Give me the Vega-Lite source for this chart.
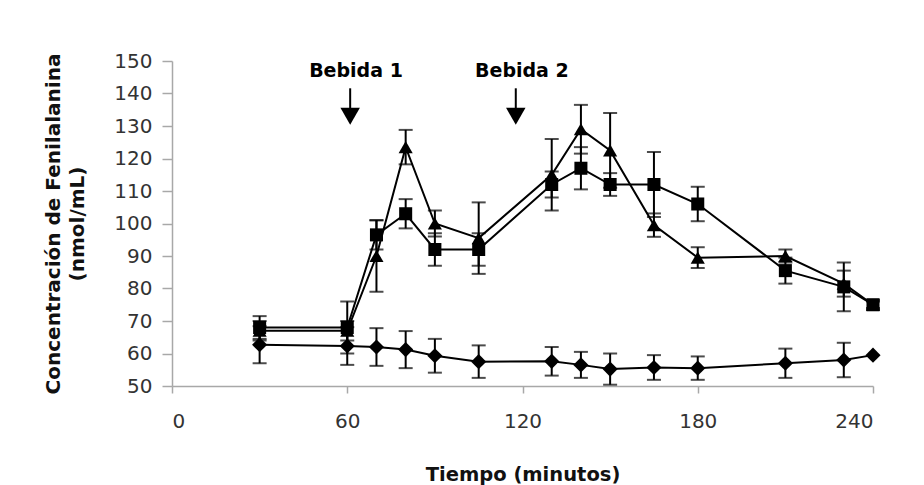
{
  "$schema": "https://vega.github.io/schema/vega-lite/v6.json",
  "autosize": "none",
  "width": 701,
  "height": 325,
  "padding": {"left": 172, "top": 61, "right": 51, "bottom": 99},
  "background": "white",
  "config": {
    "view": {"stroke": null},
    "font": "DejaVu Sans"
  },
  "datasets": {
    "series": [
      {"grupo": "S", "t": 30, "v": 68, "err": 3.5},
      {"grupo": "S", "t": 60, "v": 68, "err": 8},
      {"grupo": "S", "t": 70, "v": 96.5, "err": 4.5},
      {"grupo": "S", "t": 80, "v": 103, "err": 4.5},
      {"grupo": "S", "t": 90, "v": 92, "err": 5},
      {"grupo": "S", "t": 105, "v": 92, "err": 5},
      {"grupo": "S", "t": 130, "v": 112, "err": 4},
      {"grupo": "S", "t": 140, "v": 117, "err": 6.5},
      {"grupo": "S", "t": 150, "v": 112, "err": 3.5},
      {"grupo": "S", "t": 165, "v": 112, "err": 10},
      {"grupo": "S", "t": 180, "v": 106, "err": 5.3},
      {"grupo": "S", "t": 210, "v": 85.5, "err": 4},
      {"grupo": "S", "t": 230, "v": 80.5, "err": 7.5},
      {"grupo": "S", "t": 240, "v": 75, "err": 1.5},
      {"grupo": "T", "t": 30, "v": 67, "err": 3},
      {"grupo": "T", "t": 60, "v": 67, "err": 3},
      {"grupo": "T", "t": 70, "v": 90, "err": 11},
      {"grupo": "T", "t": 80, "v": 123.5, "err": 5.3},
      {"grupo": "T", "t": 90, "v": 100, "err": 4},
      {"grupo": "T", "t": 105, "v": 95.5, "err": 11},
      {"grupo": "T", "t": 130, "v": 115, "err": 11},
      {"grupo": "T", "t": 140, "v": 129, "err": 7.5},
      {"grupo": "T", "t": 150, "v": 122.5, "err": 11.5},
      {"grupo": "T", "t": 165, "v": 99.5, "err": 3.6},
      {"grupo": "T", "t": 180, "v": 89.5, "err": 3.2},
      {"grupo": "T", "t": 210, "v": 90, "err": 2},
      {"grupo": "T", "t": 230, "v": 81.5, "err": 4},
      {"grupo": "T", "t": 240, "v": 75, "err": 1},
      {"grupo": "D", "t": 30, "v": 62.7, "err": 5.7},
      {"grupo": "D", "t": 60, "v": 62.3, "err": 5.8},
      {"grupo": "D", "t": 70, "v": 62, "err": 5.8},
      {"grupo": "D", "t": 80, "v": 61.2, "err": 5.7},
      {"grupo": "D", "t": 90, "v": 59.3, "err": 5.2},
      {"grupo": "D", "t": 105, "v": 57.5, "err": 5},
      {"grupo": "D", "t": 130, "v": 57.6, "err": 4.4},
      {"grupo": "D", "t": 140, "v": 56.5, "err": 4},
      {"grupo": "D", "t": 150, "v": 55.2, "err": 4.8},
      {"grupo": "D", "t": 165, "v": 55.7, "err": 3.8},
      {"grupo": "D", "t": 180, "v": 55.5, "err": 3.6},
      {"grupo": "D", "t": 210, "v": 57, "err": 4.5},
      {"grupo": "D", "t": 230, "v": 58, "err": 5.3},
      {"grupo": "D", "t": 240, "v": 59.5, "err": 0}
    ],
    "labels": [
      {"label": "Bebida 1", "t": 63, "v": 147},
      {"label": "Bebida 2", "t": 119.8, "v": 147}
    ],
    "arrows": [
      {"t": 61, "top": 141.6, "base": 134.5, "head": 133},
      {"t": 117.7, "top": 141.6, "base": 134.5, "head": 133}
    ]
  },
  "encoding": {
    "x": {
      "field": "t",
      "type": "quantitative",
      "scale": {"domain": [0, 240], "nice": false},
      "axis": {
        "values": [0, 60, 120, 180, 240],
        "title": "Tiempo (minutos)",
        "grid": false,
        "domainColor": "#a8a8a8",
        "domainWidth": 1.5,
        "tickColor": "#a8a8a8",
        "tickWidth": 1.5,
        "tickSize": 7,
        "labelPadding": 18,
        "labelFont": "DejaVu Sans",
        "labelFontSize": 20,
        "labelColor": "#333333",
        "titleFont": "DejaVu Sans",
        "titleFontSize": 19.5,
        "titleFontWeight": "bold",
        "titleColor": "#111111",
        "titleBaseline": "alphabetic",
        "titleY": 94
      }
    },
    "y": {
      "field": "v",
      "type": "quantitative",
      "scale": {"domain": [50, 150], "nice": false},
      "axis": {
        "values": [50, 60, 70, 80, 90, 100, 110, 120, 130, 140, 150],
        "title": ["Concentración de Fenilalanina", "(nmol/mL)"],
        "grid": false,
        "domainColor": "#a8a8a8",
        "domainWidth": 1.5,
        "tickColor": "#a8a8a8",
        "tickWidth": 1.5,
        "tickSize": 10,
        "labelPadding": 10,
        "labelFont": "DejaVu Sans",
        "labelFontSize": 20,
        "labelColor": "#333333",
        "titleFont": "DejaVu Sans",
        "titleFontSize": 20,
        "titleFontWeight": "bold",
        "titleColor": "#111111",
        "titleBaseline": "alphabetic",
        "titleLineHeight": 24,
        "titleX": -113
      }
    }
  },
  "layer": [
    {
      "data": {"name": "series"},
      "mark": {"type": "line", "color": "black", "strokeWidth": 2},
      "encoding": {"detail": {"field": "grupo", "type": "nominal"}}
    },
    {
      "data": {"name": "series"},
      "transform": [{"filter": "datum.err > 0"}],
      "mark": {
        "type": "errorbar",
        "color": "black",
        "ticks": {"size": 14, "thickness": 2, "color": "black"},
        "rule": {"strokeWidth": 2, "color": "black"}
      },
      "encoding": {
        "y": {"field": "v", "type": "quantitative"},
        "yError": {"field": "err"},
        "detail": {"field": "grupo", "type": "nominal"}
      }
    },
    {
      "data": {"name": "series"},
      "mark": {"type": "point", "filled": true, "color": "black", "opacity": 1},
      "encoding": {
        "shape": {
          "field": "grupo",
          "type": "nominal",
          "scale": {"domain": ["S", "T", "D"], "range": ["square", "triangle-up", "diamond"]},
          "legend": null
        },
        "size": {
          "field": "grupo",
          "type": "nominal",
          "scale": {"domain": ["S", "T", "D"], "range": [170, 230, 180]},
          "legend": null
        }
      }
    },
    {
      "data": {"name": "labels"},
      "mark": {"type": "text", "font": "DejaVu Sans", "fontSize": 19, "fontWeight": "bold", "color": "black", "baseline": "middle", "align": "center"},
      "encoding": {"text": {"field": "label"}}
    },
    {
      "data": {"name": "arrows"},
      "mark": {"type": "rule", "color": "black", "strokeWidth": 2},
      "encoding": {
        "y": {"field": "top", "type": "quantitative"},
        "y2": {"field": "base"}
      }
    },
    {
      "data": {"name": "arrows"},
      "mark": {"type": "point", "shape": "triangle-down", "filled": true, "color": "black", "opacity": 1, "size": 380},
      "encoding": {
        "y": {"field": "head", "type": "quantitative"}
      }
    }
  ]
}
